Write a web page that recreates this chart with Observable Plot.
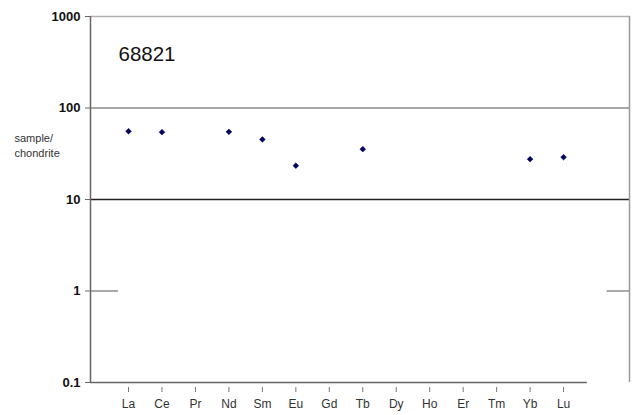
<!DOCTYPE html>
<html><head><meta charset="utf-8">
<script src="https://cdn.jsdelivr.net/npm/d3@7"></script>
<script src="https://cdn.jsdelivr.net/npm/@observablehq/plot@0.6"></script>
<style>body{margin:0;background:#fff;font-family:"Liberation Sans",Arial,sans-serif}</style>
</head><body><div id="chart"></div>
<script>
const elements = ["La","Ce","Pr","Nd","Sm","Eu","Gd","Tb","Dy","Ho","Er","Tm","Yb","Lu"];
const measured = ["La","Ce","Nd","Sm","Eu","Tb","Yb","Lu"];
const values = [55.7, 54.4, 54.9, 45.3, 23.4, 35.5, 27.6, 29.0];
const yTicks = [0.1, 1, 10, 100, 1000];
const sampleName = "68821";
const yLabel = "sample/\nchondrite";

const data = measured.map((e, i) => ({el: e, i: elements.indexOf(e), v: values[i]}));
const xMin = -1.136, xMax = 15, xAxisEnd = 13.71;

const chart = Plot.plot({
  width: 634, height: 415,
  marginLeft: 90, marginRight: 4, marginTop: 16, marginBottom: 33,
  style: {fontFamily: "'Liberation Sans', Arial, sans-serif", background: "#fff"},
  x: {type: "linear", domain: [xMin, xMax]},
  y: {type: "log", domain: [0.1, 1000]},
  marks: [
    Plot.ruleY([1000], {x1: xMin, x2: xMax, stroke: "#b0b0b0", strokeWidth: 1.5}),
    Plot.ruleY([100], {x1: xMin, x2: xMax, stroke: "#8a8a8a", strokeWidth: 1.5}),
    Plot.ruleY([10], {x1: xMin, x2: xMax, stroke: "#222", strokeWidth: 1.5}),
    Plot.ruleY([1], {x1: xMin, x2: -0.3, stroke: "#555", strokeWidth: 1}),
    Plot.ruleY([1], {x1: 14.3, x2: xMax, stroke: "#555", strokeWidth: 1}),
    Plot.ruleY([0.1], {x1: xMin, x2: xAxisEnd, stroke: "#666", strokeWidth: 1.5}),
    Plot.ruleX([xMax], {y1: 0.1, y2: 1000, stroke: "#999", strokeWidth: 1.5, dx: -1}),
    Plot.ruleX([xMin], {y1: 0.1, y2: 1000, stroke: "#666", strokeWidth: 1.5}),
    Plot.axisY({ticks: yTicks, tickFormat: d => String(d), tickSize: 5, tickPadding: 5,
      fontSize: 13, fontWeight: "bold", color: "#111", stroke: "#666", label: null}),
    Plot.axisX({ticks: d3.range(elements.length), tickFormat: i => elements[i], tickSize: 5,
      tickPadding: 7, dy: 5, fontSize: 12, fill: "#333", stroke: "#777", label: null}),
    Plot.text([yLabel], {x: xMin, y: 40, text: d => d, dx: -76, textAnchor: "start",
      fontSize: 11, fill: "#333", lineHeight: 1.4}),
    Plot.text([sampleName], {x: -0.3, y: 385, text: d => d, textAnchor: "start",
      fontSize: 20.5, fill: "#111"}),
    Plot.dot(data, {x: "i", y: "v", symbol: "diamond2", r: 2.6, fill: "#000060", stroke: "#000060", strokeWidth: 0.5})
  ]
});
document.getElementById("chart").appendChild(chart);
</script></body></html>
